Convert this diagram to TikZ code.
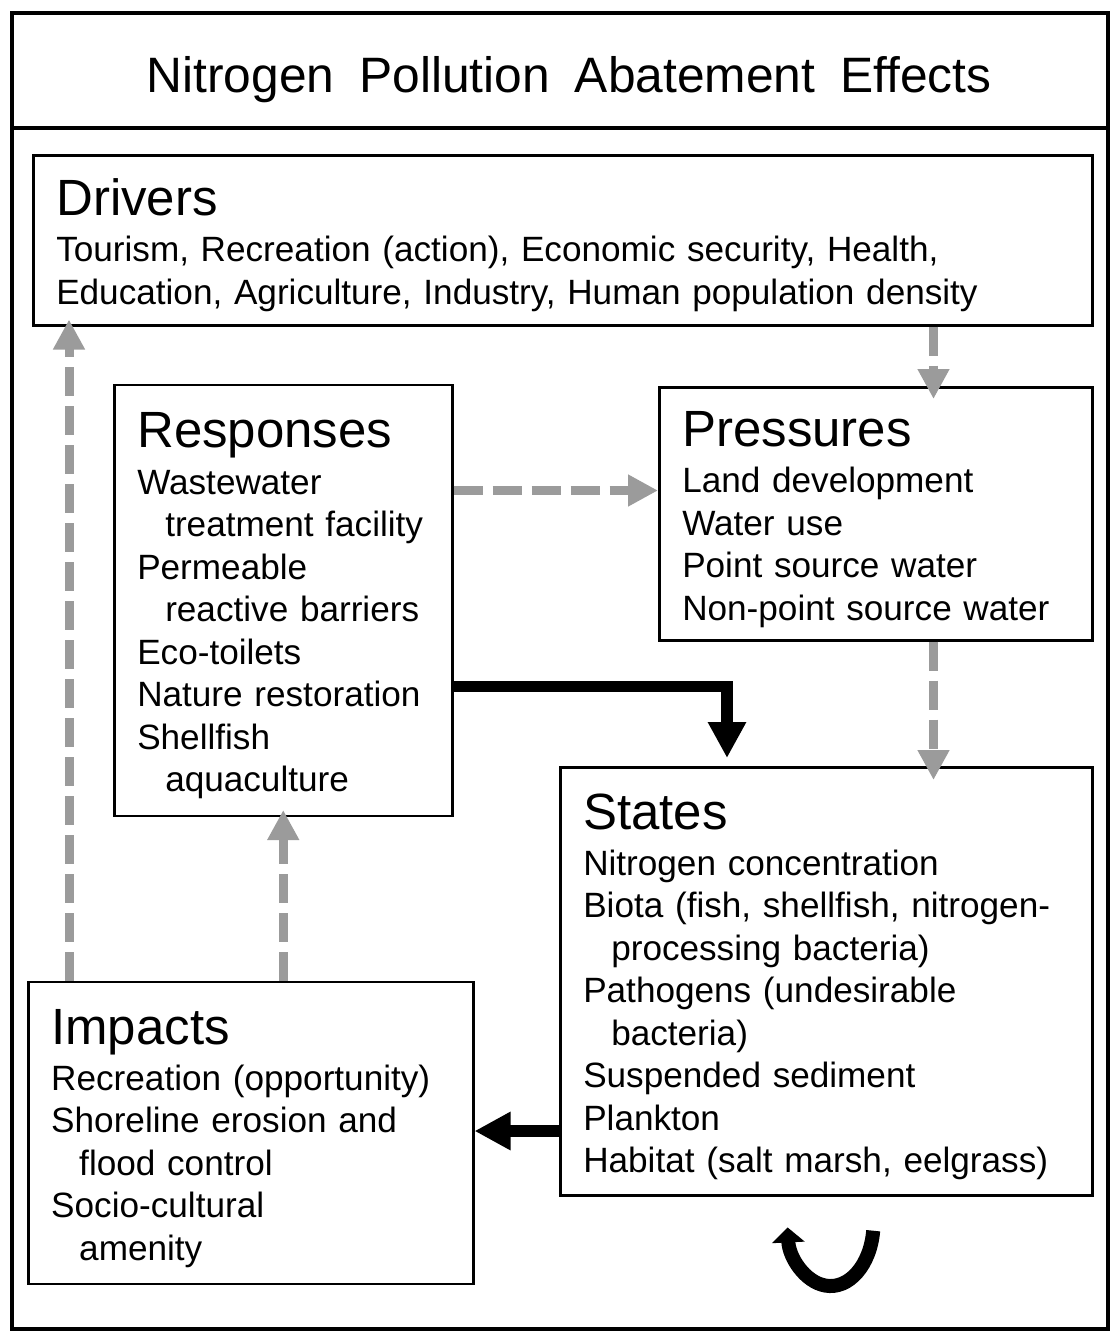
\documentclass[tikz,border=0pt]{standalone}
\usepackage{fontspec}
\setmainfont{Liberation Sans}
\usepackage{tikz}
\usetikzlibrary{positioning,arrows.meta}
\definecolor{arrowgray}{RGB}{155,155,155}
\newcommand{\titlefont}{\fontsize{28.3}{34}\selectfont\spaceskip=0.5em}
\newcommand{\headfont}{\fontsize{29}{34}\selectfont}
\newcommand{\bodyfont}{\fontsize{20}{24.2}\selectfont}
\newcommand{\heading}[1]{{\headfont\rule{0pt}{0.93cm}#1}\\[2pt]}
\newcommand{\contline}{\hspace*{0.56cm}}
\tikzstyle{titlebox} = [rectangle, draw=black, line width=0.09cm, outer sep=0pt, minimum width=21.92cm, minimum height=2.3cm, text height=0.88cm, text depth=0cm, font=\titlefont]
\tikzstyle{framebox} = [rectangle, draw=black, line width=0.09cm, outer sep=0pt, minimum width=21.92cm, minimum height=24.02cm]
\tikzstyle{box} = [rectangle, draw=black, line width=0.05cm, align=left, inner xsep=0.46cm, inner ysep=0pt, font=\bodyfont]
\tikzstyle{garrow} = [line width=0.18cm, draw=arrowgray, dash pattern=on 0.58cm off 0.2cm, -{Triangle[length=0.6cm,width=0.6cm]}]
\tikzstyle{barrow} = [line width=0.23cm, -{Triangle[length=0.72cm,width=0.72cm]}]
\tikzstyle{turn} = [line width=0.28cm, -{Triangle[length=0.3cm,width=0.64cm]}]
\begin{document}
\begin{tikzpicture}
	\useasboundingbox (0,0) rectangle (22.24,-26.64);

		% Frame
		\node (title) [titlebox, anchor=north west] at (0.24,-0.26) {\hspace*{0.36cm}Nitrogen Pollution Abatement Effects};
		\node (frame) [framebox, below=0cm of title] {};

		% Nodes
		\node (drivers) [box, minimum width=21.18cm, minimum height=3.4cm, text width=20.26cm,
			below right=0.52cm and 0.4cm of frame.north west]
			{\heading{Drivers}
			Tourism, Recreation (action), Economic security, Health,\\
			Education, Agriculture, Industry, Human population density};

		\node (pressures) [box, minimum width=8.66cm, minimum height=5.06cm, text width=7.74cm,
			below left=1.19cm and 0cm of drivers.south east]
			{\heading{Pressures}
			Land development\\
			Water use\\
			Point source water\\
			Non-point source water};

		\node (responses) [box, minimum width=6.76cm, minimum height=8.62cm, text width=5.84cm,
			below right=1.14cm and 1.62cm of drivers.south west]
			{\heading{Responses}
			Wastewater\\
			\contline treatment facility\\
			Permeable\\
			\contline reactive barriers\\
			Eco-toilets\\
			Nature restoration\\
			Shellfish\\
			\contline aquaculture};

		\node (states) [box, minimum width=10.64cm, minimum height=8.56cm, text width=9.72cm,
			below left=2.49cm and 0cm of pressures.south east]
			{\heading{States}
			Nitrogen concentration\\
			Biota (fish, shellfish, nitrogen-\\
			\contline processing bacteria)\\
			Pathogens (undesirable\\
			\contline bacteria)\\
			Suspended sediment\\
			Plankton\\
			Habitat (salt marsh, eelgrass)};

		\node (impacts) [box, minimum width=8.9cm, minimum height=6.04cm, text width=7.98cm,
			below right=3.27cm and -1.72cm of responses.south west]
			{\heading{Impacts}
			Recreation (opportunity)\\
			Shoreline erosion and\\
			\contline flood control\\
			Socio-cultural\\
			\contline amenity};

		% Arrows
		\coordinate (r2p) at ([yshift=-2.14cm]responses.north east);
		\coordinate (r2s) at ([yshift=-6.06cm]responses.north east);
		\coordinate (s2i) at ([yshift=-7.3cm]states.north west);
		\coordinate (i2d) at ([xshift=0.84cm]impacts.north west);
		\coordinate (turnc) at ([xshift=-5.24cm,yshift=-0.53cm]states.south east);

		\draw [garrow, shorten >=-0.26cm] ([xshift=-3.2cm]drivers.south east) -- ([xshift=-3.2cm]pressures.north east);
		\draw [garrow] (r2p) -- (r2p -| pressures.west);
		\draw [garrow, shorten >=-0.28cm] ([xshift=-3.2cm]pressures.south east) -- ([xshift=-3.2cm]states.north east);
		\draw [garrow, shorten >=-0.14cm] (i2d) -- (i2d |- drivers.south);
		\draw [garrow, shorten >=-0.14cm] (responses.south |- impacts.north) -- (responses.south);

		\draw [barrow, shorten >=0.16cm] (r2s) -| ([xshift=3.36cm]states.north west);
		\draw [barrow] (s2i) -- (s2i -| impacts.east);

		\draw [turn] ([shift={(0.834cm,-0.154cm)}]turnc) arc[start angle=-7, end angle=-176, x radius=0.86cm, y radius=1.26cm];
	\end{tikzpicture}
\end{document}
